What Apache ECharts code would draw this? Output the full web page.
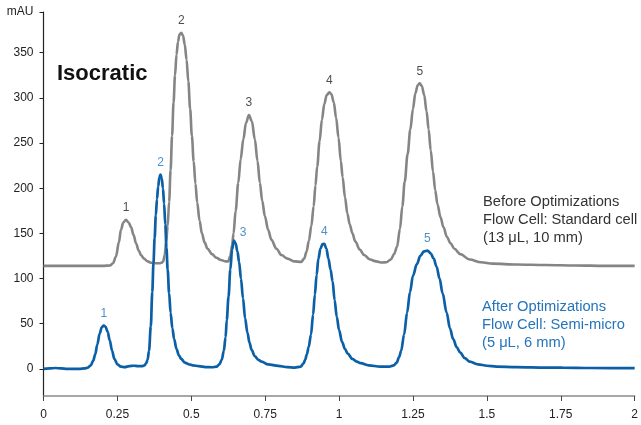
<!DOCTYPE html>
<html>
<head>
<meta charset="utf-8">
<script src="https://cdn.jsdelivr.net/npm/echarts@6/dist/echarts.min.js"></script>
<style>
html,body{margin:0;padding:0;background:#fff;}
#chart{width:641px;height:425px;}
</style>
</head>
<body>
<div id="chart"></div>
<script>
// ---- Data ----
var xTicks = [0, 0.25, 0.5, 0.75, 1, 1.25, 1.5, 1.75, 2];
var yTicks = [0, 50, 100, 150, 200, 250, 300, 350, 395];
var yUnitLabel = 'mAU';

// "Before Optimizations" trace (time, mAU)
var beforeX = [0.000,0.100,0.200,0.225,0.235,0.245,0.255,0.262,0.270,0.279,0.288,0.296,0.305,0.313,0.322,0.330,0.340,0.352,0.365,0.380,0.392,0.400,
  0.405,0.410,0.415,0.420,0.425,0.430,0.435,0.440,0.445,0.450,0.455,0.460,0.466,0.472,0.478,0.484,0.490,0.496,0.502,0.508,0.514,0.520,0.528,0.536,0.545,0.555,0.570,0.585,0.600,0.615,0.625,
  0.632,0.638,0.643,0.650,0.659,0.667,0.676,0.685,0.695,0.705,0.715,0.724,0.732,0.740,0.749,0.760,0.771,0.788,0.805,0.825,0.850,0.872,
  0.882,0.890,0.898,0.906,0.914,0.920,0.926,0.934,0.942,0.950,0.958,0.967,0.974,0.982,0.990,0.998,1.006,1.012,1.020,1.028,1.036,1.045,1.055,1.070,1.085,1.105,1.125,1.146,
  1.160,1.175,1.186,1.196,1.206,1.214,1.222,1.232,1.241,1.250,1.258,1.266,1.273,1.280,1.288,1.296,1.303,1.310,1.318,1.325,1.333,1.343,1.353,1.365,1.377,1.390,1.410,1.442,1.480,1.520,1.600,1.700,1.800,1.900,2.000];
var beforeY = [114,114,114,114.5,117,124,140,154,162,165,162,157,148,139,131,126,122,119,117.5,117,117,117.5,
  119,126,140,158,185,220,258,295,325,348,362,370,372,369,359,342,318,288,258,230,205,184,164,150,140,133,127,123,120.5,119,119,
  125,137,150,175,206,232,254,272,281,274,254,230,206,186,169,154,143,133,126,122,119,118.5,
  122,130,142,158,180,203,224,252,276,293,303,306,304,295,278,256,230,212,190,172,160,150,141,132,126,121,119,117.7,
  118,121,127,135,155,180,207,238,265,288,305,314,316,313,303,285,265,242,218,198,182,168,157,146,139,133,127,121,118,116.5,115.5,115,114.5,114,114];

// "After Optimizations" trace (time, mAU)
var afterX = [0.000,0.020,0.040,0.060,0.080,0.100,0.120,0.140,0.150,0.160,0.168,0.175,0.182,0.190,0.197,0.204,0.210,0.217,0.224,0.232,0.240,0.250,0.262,0.275,0.290,0.305,0.320,0.335,
  0.342,0.347,0.352,0.357,0.363,0.368,0.372,0.376,0.380,0.384,0.388,0.392,0.396,0.400,0.404,0.408,0.412,0.416,0.420,0.425,0.430,0.436,0.442,0.450,0.458,0.466,0.478,0.492,0.505,0.525,0.548,0.570,
  0.585,0.595,0.603,0.610,0.616,0.620,0.626,0.632,0.638,0.644,0.650,0.656,0.662,0.668,0.675,0.682,0.690,0.697,0.704,0.715,0.727,0.738,0.760,0.794,0.825,0.850,
  0.870,0.880,0.885,0.891,0.897,0.905,0.912,0.918,0.924,0.930,0.937,0.944,0.950,0.957,0.964,0.971,0.978,0.985,0.992,1.000,1.010,1.020,1.029,1.045,1.060,1.073,1.100,1.140,1.170,
  1.185,1.195,1.203,1.210,1.220,1.230,1.240,1.250,1.263,1.275,1.287,1.299,1.310,1.320,1.330,1.340,1.350,1.364,1.375,1.386,1.398,1.410,1.425,1.442,1.470,1.500,1.532,1.600,1.700,1.756,1.850,1.990,2.000];
var afterY = [0,0.5,1,0.5,0,0,0,0.5,1.5,4,9,16,27,39,46,48,46.5,41,32,20,11,5,2.5,2,3,3.5,3,3,
  4,6,10,20,47,85,117,145,170,188,202,212,215,211,200,183,160,134,110,84,62,45,33,22,15,11,7,5,4,3,2,1.8,
  2.5,5,10,20,35,54,80,110,132,142,139,130,118,100,78,56,40,29,21,14,10,8,5,3.3,2,1.5,
  2.5,6,10,16,24,38,60,82,104,122,133,138,138.5,133,122,110,97,76,58,43,30,22,17,11,8,6.3,4,2.5,2.5,
  4,7,13,20,38,62,85,103,116,125,130,131,128,122,113,100,84,62,45,33,24,18,12,8,5,3.5,2.5,2,1.5,1.4,1,0.8,0.8];

// Peak labels (apex positions)
var peakNames = ['1','2','3','4','5'];
var beforePeakX = [0.279,0.466,0.695,0.967,1.273];
var beforePeakY = [165,372,281,306,316];
var afterPeakX = [0.204,0.396,0.644,0.950,1.299];
var afterPeakY = [48,215,142,138.5,131];

var beforeText = ['Before Optimizations','Flow Cell: Standard cell','(13 μL, 10 mm)'];
var afterText = ['After Optimizations','Flow Cell: Semi-micro','(5 μL, 6 mm)'];
var titleText = 'Isocratic';

// ---- Build ----
function zip(xs, ys){ var r=[]; for(var i=0;i<xs.length;i++) r.push([xs[i], ys[i]]); return r; }
var GRAY = '#858585', BLUE = '#0b5fa6', BLUE_TXT = '#2474bb', FONT = '"Liberation Sans", Arial, Helvetica, sans-serif';

function peakSeries(xs, ys, color, special){
  var d = [];
  for (var i=0;i<xs.length;i++){
    var item = {value:[xs[i], ys[i]], name: peakNames[i]};
    if (special && special[i]) item.label = special[i];
    d.push(item);
  }
  return {
    type:'scatter', data:d, symbolSize:0, silent:true, z:5,
    label:{show:true, position:'top', distance:6, formatter:'{b}', color:color, fontSize:12, fontFamily:FONT}
  };
}

var chart = echarts.init(document.getElementById('chart'), null, {renderer:'canvas'});
chart.setOption({
  animation:false,
  backgroundColor:'#fff',
  grid:{left:43.5, right:3.5, top:12, bottom:29, containLabel:false},
  xAxis:{
    type:'value', min:0, max:2, interval:0.25,
    axisLine:{show:true, onZero:false, lineStyle:{color:'#8a8a8a', width:1.5}},
    axisTick:{show:true, length:5, lineStyle:{color:'#444', width:1}},
    axisLabel:{margin:13, color:'#222', fontSize:12, fontFamily:FONT,
      customValues: xTicks},
    splitLine:{show:false}
  },
  yAxis:{
    type:'value', min:-30, max:395,
    axisLine:{show:true, onZero:false, lineStyle:{color:'#222', width:1.2}},
    axisTick:{show:true, length:4, lineStyle:{color:'#222'}, customValues: yTicks},
    axisLabel:{margin:10, color:'#222', fontSize:12, fontFamily:FONT, customValues: yTicks,
      formatter:function(v){ return v === 395 ? yUnitLabel : String(v); }},
    splitLine:{show:false}
  },
  series:[
    {type:'line', data:zip(beforeX, beforeY), showSymbol:false, smooth:0.35, smoothMonotone:'x',
      lineStyle:{color:GRAY, width:2.6}, z:2, clip:false},
    {type:'line', data:zip(afterX, afterY), showSymbol:false, smooth:0.35, smoothMonotone:'x',
      lineStyle:{color:BLUE, width:2.7}, z:3, clip:false},
    peakSeries(beforePeakX, beforePeakY, '#222'),
    peakSeries(afterPeakX, afterPeakY, BLUE_TXT, {2:{position:'right', distance:0, offset:[6,-8]}})
  ],
  graphic:[
    {type:'text', left:57, top:63, style:{text:titleText, font:'bold 22px '+FONT, fill:'#111'}},
    {type:'text', left:483, top:193, style:{text:beforeText.join('\n'), font:'14.7px '+FONT, lineHeight:18, fill:'#333'}},
    {type:'text', left:482, top:298, style:{text:afterText.join('\n'), font:'14.7px '+FONT, lineHeight:18, fill:BLUE_TXT}}
  ]
});
</script>
</body>
</html>
